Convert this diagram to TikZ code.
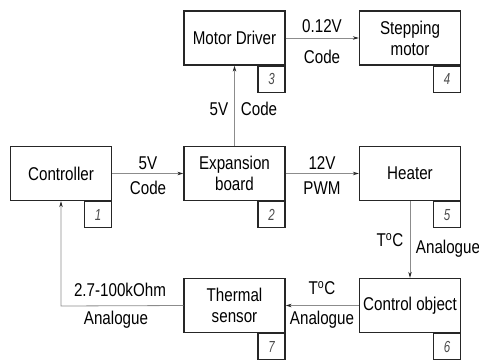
\documentclass[tikz,border=0pt]{standalone}
\usepackage{fontspec}
\setmainfont{Liberation Sans}[FakeStretch=0.82]
\newfontfamily\numfont{Liberation Sans}[FakeStretch=0.72]
\usetikzlibrary{arrows.meta}
\begin{document}
\begin{tikzpicture}[x=1pt,y=-1pt,
  blk/.style={draw=black!85,line width=1.3pt,minimum width=101pt,minimum height=54pt,inner sep=0pt,align=center,font=\fontsize{18.5}{21}\selectfont},
  tab/.style={draw=black!85,line width=1.3pt,minimum width=27pt,minimum height=26pt,inner sep=0pt,anchor=north east,font=\numfont\itshape\fontsize{16}{16}\selectfont\color{black!70}},
  conn/.style={draw=black!45,line width=0.8pt,-{Stealth[length=6pt,width=3.5pt,color=black!85]}},
  lbl/.style={inner sep=0pt,font=\fontsize{18.5}{21}\selectfont}]
\useasboundingbox (0,0) rectangle (479,361);
% blocks
\node[blk] (md) at (234.5,38) {Motor Driver};
\node[tab] (t3) at (md.south east) {3};
\node[blk] (sm) at (410,38) {Stepping\\motor};
\node[tab] (t4) at (sm.south east) {4};
\node[blk] (ctl) at (61,173.5) {Controller};
\node[tab] (t1) at (ctl.south east) {1};
\node[blk] (exp) at (234.5,173.5) {Expansion\\board};
\node[tab] (t2) at (exp.south east) {2};
\node[blk] (ht) at (410,173.5) {Heater};
\node[tab] (t5) at (ht.south east) {5};
\node[blk] (co) at (410,305.5) {Control object};
\node[tab] (t6) at (co.south east) {6};
\node[blk] (ts) at (234.5,305.5) {Thermal\\sensor};
\node[tab] (t7) at (ts.south east) {7};
% connectors
\draw[conn] (md.east) -- (sm.west);
\draw[conn] (exp.north) -- (md.south);
\draw[conn] (ctl.east) -- (exp.west);
\draw[conn] (exp.east) -- (ht.west);
\draw[conn] (ht.south) -- (co.north);
\draw[conn] (co.west) -- (ts.west -| ts.east);
\coordinate (bend) at (61,306);
\draw[conn] (ts.west) -- (bend) -- (ctl.south);
% labels
\node[lbl] (l1) at (322,26) {0.12V};
\node[lbl] (l2) at (322,57) {Code};
\node[lbl] (l3) at (219,109) {5V};
\node[lbl] (l4) at (259,109) {Code};
\node[lbl] (l5) at (148,163) {5V};
\node[lbl] (l6) at (148,188) {Code};
\node[lbl] (l7) at (322,163) {12V};
\node[lbl] (l8) at (322,188) {PWM};
\node[lbl] (l9) at (390,240) {T\textsuperscript{o}C};
\node[lbl] (l10) at (448,249) {Analogue};
\node[lbl] (l11) at (322,288) {T\textsuperscript{o}C};
\node[lbl] (l12) at (322,320) {Analogue};
\node[lbl] (l13) at (120,290) {2.7-100kOhm};
\node[lbl] (l14) at (116,320) {Analogue};
\end{tikzpicture}
\end{document}
